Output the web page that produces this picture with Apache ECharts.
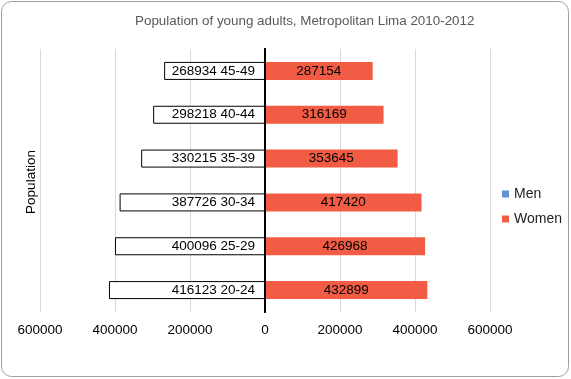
<!DOCTYPE html>
<html>
<head>
<meta charset="utf-8">
<script src="https://cdn.jsdelivr.net/npm/echarts@6/dist/echarts.min.js"></script>
<style>html,body{margin:0;padding:0;background:#fff}#c{width:571px;height:379px}</style>
</head>
<body>
<div id="c"></div>
<script>
var ages = ['20-24', '25-29', '30-34', '35-39', '40-44', '45-49'];
var men = [416123, 400096, 387726, 330215, 298218, 268934];
var women = [432899, 426968, 417420, 353645, 316169, 287154];
var xTicks = [-600000, -400000, -200000, 0, 200000, 400000, 600000];

var FONT = 'Liberation Sans, Arial, sans-serif';
var chart = echarts.init(document.getElementById('c'));
chart.setOption({
  animation: false,
  backgroundColor: '#fff',
  title: {
    text: 'Population of young adults, Metropolitan Lima 2010-2012',
    left: 135, top: 15, padding: 0,
    textStyle: {fontFamily: FONT, fontSize: 13.4, fontWeight: 'normal', color: '#595959'}
  },
  legend: {
    orient: 'vertical', left: 502, top: 187, padding: 0,
    itemWidth: 7, itemHeight: 7, itemGap: 11,
    icon: 'rect',
    textStyle: {fontFamily: FONT, fontSize: 14, color: '#222'},
    data: [
      {name: 'Men', itemStyle: {color: '#6392D0', borderWidth: 0}},
      {name: 'Women', itemStyle: {color: '#F25C45', borderWidth: 0}}
    ]
  },
  grid: {left: 40, right: 81, top: 49, bottom: 67},
  xAxis: {
    type: 'value', min: xTicks[0], max: xTicks[xTicks.length - 1], interval: 200000,
    axisLine: {show: false}, axisTick: {show: false},
    splitLine: {lineStyle: {color: '#d9d9d9'}},
    axisLabel: {margin: 11, fontFamily: FONT, fontSize: 13.5, color: '#000',
      formatter: function (v) { return String(Math.abs(v)); }}
  },
  yAxis: [
    {type: 'category', data: ages, z: 5,
      axisLine: {onZero: true, onZeroAxisIndex: 0, lineStyle: {color: '#000', width: 2}},
      axisTick: {length: 3, lineStyle: {color: '#000'}},
      axisLabel: {show: false}},
    {type: 'category', data: ages, position: 'right', z: 5,
      axisLine: {onZero: true, onZeroAxisIndex: 0, lineStyle: {color: '#000', width: 2}},
      axisTick: {length: 3, lineStyle: {color: '#000'}},
      axisLabel: {show: false}},
    {type: 'category', data: ages, z: 5,
      axisLine: {onZero: true, onZeroAxisIndex: 0, show: false},
      axisTick: {length: 2, alignWithLabel: true, lineStyle: {color: '#000'}},
      axisLabel: {show: false}}
  ],
  series: [
    {name: 'Men', type: 'bar', stack: 'p', barWidth: 18,
      data: men.map(function (v) { return -v; }),
      color: '#6392D0',
      itemStyle: {color: '#fff', borderColor: '#000', borderWidth: 1},
      label: {show: true, position: 'insideRight', distance: 10,
        fontFamily: FONT, fontSize: 13.5, color: '#000',
        formatter: function (p) { return Math.abs(p.value) + ' ' + p.name; }}},
    {name: 'Women', type: 'bar', stack: 'p', barWidth: 18,
      data: women,
      itemStyle: {color: '#F25C45'},
      label: {show: true, position: 'inside',
        fontFamily: FONT, fontSize: 13.5, color: '#000'}}
  ],
  graphic: [
    {type: 'rect', shape: {x: 1.5, y: 1.5, width: 567, height: 375, r: 10},
      style: {fill: 'none', stroke: '#a0a0a0', lineWidth: 1}, silent: true, z: 10},
    {type: 'text', x: 31, y: 182, rotation: Math.PI / 2,
      style: {text: 'Population', fontFamily: FONT, fontSize: 13.5, fill: '#000',
        textAlign: 'center', textVerticalAlign: 'middle'}}
  ]
});
</script>
</body>
</html>
